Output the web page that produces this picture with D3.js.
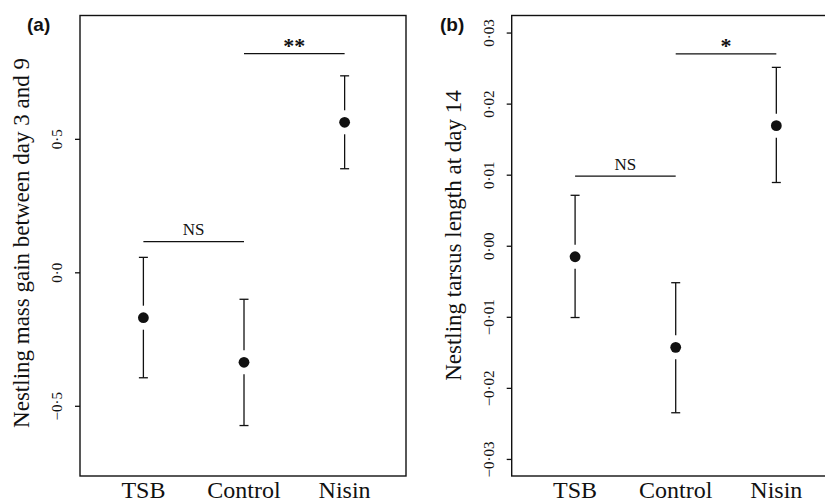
<!DOCTYPE html>
<html>
<head>
<meta charset="utf-8">
<script src="https://cdn.jsdelivr.net/npm/d3@7"></script>
<style>
  body { margin: 0; background: #fff; }
  text { font-family: "Liberation Serif", "Times New Roman", serif; fill: #111; }
</style>
</head>
<body>
<div id="chart"></div>
<script>
const groups = ["TSB", "Control", "Nisin"];

const massMean = [-0.170, -0.337, 0.562];
const massLower = [-0.395, -0.574, 0.388];
const massUpper = [0.056, -0.101, 0.736];
const massTicks = [-0.5, 0, 0.5];
const massTickLabels = ["\u22120\u00b75", "0\u00b70", "0\u00b75"];
const massBrackets = [
    { from: 0, to: 1, y: 0.115, label: "NS" },
    { from: 1, to: 2, y: 0.819, label: "**" }
];

const tarsusMean = [-0.00155, -0.0143, 0.0169];
const tarsusLower = [-0.0101, -0.0235, 0.0089];
const tarsusUpper = [0.0071, -0.0052, 0.0251];
const tarsusTicks = [-0.03, -0.02, -0.01, 0, 0.01, 0.02, 0.03];
const tarsusTickLabels = ["\u22120\u00b703", "\u22120\u00b702", "\u22120\u00b701", "0\u00b700", "0\u00b701", "0\u00b702", "0\u00b703"];
const tarsusBrackets = [
    { from: 0, to: 1, y: 0.0098, label: "NS" },
    { from: 1, to: 2, y: 0.027, label: "*" }
];

const width = 825;
const height = 503;
const ink = "#111";

const svg = d3.select("#chart").append("svg")
    .attr("width", width)
    .attr("height", height);

function drawPanel(opts) {
    const box = { left: opts.left, top: 15.5, width: 326, height: 460.5 };

    const x = d3.scaleLinear()
        .domain([0.37, 3.61])
        .range([box.left, box.left + box.width]);

    const y = d3.scaleLinear()
        .domain(opts.yDomain)
        .range([box.top + box.height, box.top]);

    const g = svg.append("g");

    // frame
    g.append("rect")
        .attr("x", box.left)
        .attr("y", box.top)
        .attr("width", box.width)
        .attr("height", box.height)
        .attr("fill", "none")
        .attr("stroke", ink)
        .attr("stroke-width", 1.4);

    // y axis
    const yAxis = d3.axisLeft(y)
        .tickValues(opts.ticks)
        .tickSize(5)
        .tickFormat((d, i) => opts.tickLabels[i]);

    const axisG = g.append("g")
        .attr("transform", `translate(${box.left},0)`)
        .call(yAxis);
    axisG.select(".domain").remove();
    axisG.selectAll(".tick line").attr("stroke", ink).attr("stroke-width", 1.3);
    axisG.selectAll(".tick text")
        .attr("x", null)
        .attr("dy", null)
        .attr("transform", "translate(-18,0) rotate(-90)")
        .attr("text-anchor", "middle")
        .style("font-family", "'Liberation Serif', 'Times New Roman', serif")
        .style("font-size", "15px")
        .attr("fill", ink);

    // y title
    g.append("text")
        .attr("transform", `translate(${opts.titleX},${opts.titleY}) rotate(-90)`)
        .attr("text-anchor", "middle")
        .style("font-size", "23px")
        .text(opts.title);

    // x labels
    g.selectAll(".xlab")
        .data(groups)
        .join("text")
        .attr("x", (d, i) => x(i + 1))
        .attr("y", 498)
        .attr("text-anchor", "middle")
        .style("font-size", "24px")
        .text(d => d);

    // error bars with a gap round the point
    const gap = 12;
    const cap = 4.5;
    groups.forEach((grp, i) => {
        const cx = x(i + 1);
        const cy = y(opts.mean[i]);
        const yu = y(opts.upper[i]);
        const yl = y(opts.lower[i]);
        const bars = g.append("g")
            .attr("stroke", ink)
            .attr("stroke-width", 1.3);
        bars.append("line").attr("x1", cx).attr("x2", cx).attr("y1", yu).attr("y2", cy - gap);
        bars.append("line").attr("x1", cx).attr("x2", cx).attr("y1", cy + gap).attr("y2", yl);
        bars.append("line").attr("x1", cx - cap).attr("x2", cx + cap).attr("y1", yu).attr("y2", yu);
        bars.append("line").attr("x1", cx - cap).attr("x2", cx + cap).attr("y1", yl).attr("y2", yl);
        g.append("circle")
            .attr("cx", cx)
            .attr("cy", cy)
            .attr("r", 5.4)
            .attr("fill", ink);
    });

    // significance brackets
    opts.brackets.forEach(b => {
        const x1 = x(b.from + 1);
        const x2 = x(b.to + 1);
        const by = y(b.y);
        g.append("line")
            .attr("x1", x1).attr("x2", x2)
            .attr("y1", by).attr("y2", by)
            .attr("stroke", ink)
            .attr("stroke-width", 1.3);
        const star = b.label.indexOf("*") >= 0;
        g.append("text")
            .attr("x", (x1 + x2) / 2)
            .attr("y", star ? by - 1 : by - 6.5)
            .attr("text-anchor", "middle")
            .style("font-size", star ? "22px" : "17px")
            .style("font-weight", star ? "bold" : "normal")
            .text(b.label);
    });

    // panel letter
    svg.append("text")
        .attr("x", opts.letterX)
        .attr("y", 31)
        .style("font-family", "'Liberation Sans', Arial, sans-serif")
        .style("font-weight", "bold")
        .style("font-size", "19px")
        .text(opts.letter);
}

drawPanel({
    left: 80,
    yDomain: [-0.763, 0.962],
    ticks: massTicks,
    tickLabels: massTickLabels,
    mean: massMean,
    lower: massLower,
    upper: massUpper,
    brackets: massBrackets,
    title: "Nestling mass gain between day 3 and 9",
    titleX: 28.5,
    titleY: 243,
    letter: "(a)",
    letterX: 27
});

drawPanel({
    left: 511.7,
    yDomain: [-0.0324, 0.0324],
    ticks: tarsusTicks,
    tickLabels: tarsusTickLabels,
    mean: tarsusMean,
    lower: tarsusLower,
    upper: tarsusUpper,
    brackets: tarsusBrackets,
    title: "Nestling tarsus length at day 14",
    titleX: 460.5,
    titleY: 235.5,
    letter: "(b)",
    letterX: 440
});
</script>
</body>
</html>
